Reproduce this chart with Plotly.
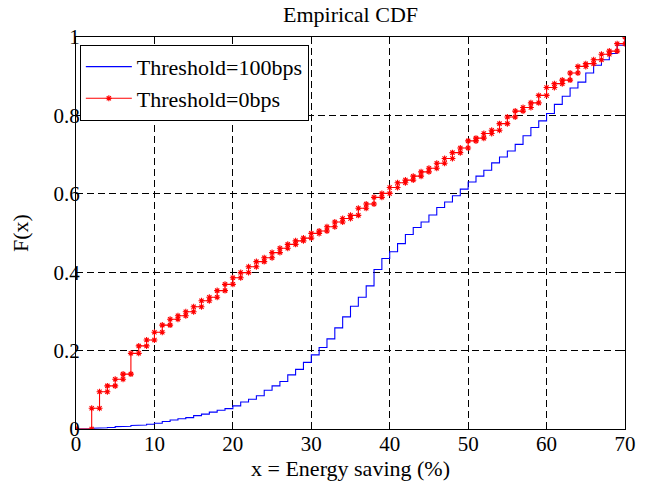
import plotly.graph_objects as go

# Step positions (x = Energy saving, %)
x_steps = list(range(0, 71))

# Empirical CDF levels on [k, k+1) for k = 0..70
cdf_100bps = [
    0.0, 0.0, 0.002, 0.003, 0.004, 0.006, 0.007, 0.009, 0.010, 0.012,
    0.0145, 0.019, 0.023, 0.026, 0.029, 0.034, 0.038, 0.043, 0.048, 0.052,
    0.059, 0.069, 0.076, 0.085, 0.099, 0.110, 0.121, 0.138, 0.152, 0.170,
    0.189, 0.208, 0.230, 0.258, 0.286, 0.313, 0.336, 0.365, 0.407, 0.435,
    0.452, 0.473, 0.496, 0.514, 0.528, 0.546, 0.565, 0.579, 0.595, 0.612,
    0.630, 0.645, 0.660, 0.679, 0.694, 0.709, 0.726, 0.748, 0.769, 0.786,
    0.805, 0.828, 0.849, 0.870, 0.885, 0.908, 0.928, 0.942, 0.958, 0.979,
    1.0,
]
cdf_0bps = [
    0.0, 0.0, 0.053, 0.095, 0.110, 0.127, 0.140, 0.193, 0.212, 0.227,
    0.247, 0.265, 0.280, 0.289, 0.299, 0.312, 0.327, 0.336, 0.353, 0.369,
    0.386, 0.399, 0.414, 0.427, 0.437, 0.450, 0.461, 0.471, 0.480, 0.487,
    0.499, 0.505, 0.516, 0.528, 0.537, 0.545, 0.563, 0.574, 0.591, 0.601,
    0.616, 0.628, 0.635, 0.645, 0.656, 0.665, 0.678, 0.690, 0.705, 0.717,
    0.735, 0.742, 0.754, 0.762, 0.779, 0.796, 0.811, 0.820, 0.832, 0.851,
    0.871, 0.881, 0.890, 0.908, 0.925, 0.932, 0.942, 0.956, 0.964, 0.983,
    1.0,
]

x_ticks = [0, 10, 20, 30, 40, 50, 60, 70]
y_ticks = [0, 0.2, 0.4, 0.6, 0.8, 1]
y_tick_labels = ["0", "0.2", "0.4", "0.6", "0.8", "1"]

series_names = ["Threshold=100bps", "Threshold=0bps"]


def stair_vertices(xs, fs):
    vx, vy = [xs[0]], [fs[0]]
    for k in range(1, len(xs)):
        if fs[k] != fs[k - 1]:
            vx += [xs[k], xs[k]]
            vy += [fs[k - 1], fs[k]]
    return vx, vy


FONT = "Liberation Serif"

bx, by = stair_vertices(x_steps, cdf_100bps)
rx, ry = stair_vertices(x_steps, cdf_0bps)

fig = go.Figure()
fig.add_trace(go.Scatter(
    x=bx, y=by, mode="lines", name=series_names[0],
    line=dict(color="#0000ff", width=1.1),
))
fig.add_trace(go.Scatter(
    x=rx, y=ry, mode="lines+markers", name=series_names[1],
    line=dict(color="#ff0000", width=1.1),
    marker=dict(symbol="asterisk-open", size=5, color="#ff0000",
                line=dict(color="#ff0000", width=1.1)),
))

axis_common = dict(
    showline=True, linecolor="black", linewidth=1, mirror="ticks",
    ticks="inside", ticklen=5, tickcolor="black", tickwidth=1,
    showgrid=True, gridcolor="black", gridwidth=1, griddash="7px,4px",
    zeroline=False,
    tickfont=dict(family=FONT, size=21, color="black"),
)

fig.update_xaxes(
    range=[0, 70], tickvals=x_ticks, ticklabelstandoff=-4,
    title=dict(text="x = Energy saving (%)", font=dict(family=FONT, size=22, color="black"), standoff=0),
    **axis_common,
)
fig.update_yaxes(
    range=[0, 1], tickvals=y_ticks, ticktext=y_tick_labels, ticklabelstandoff=-9,
    title=dict(text="F(x)", font=dict(family=FONT, size=22, color="black"), standoff=18),
    **axis_common,
)

fig.update_layout(
    width=648, height=481,
    margin=dict(l=76, r=23, t=37, b=52, autoexpand=False),
    paper_bgcolor="white", plot_bgcolor="white",
    title=dict(text="Empirical CDF", x=0.5, xref="paper", xanchor="center",
               y=1 - 14 / 481, yref="container", yanchor="middle",
               font=dict(family=FONT, size=22, color="black")),
    legend=dict(x=0.007, y=0.98, xanchor="left", yanchor="top",
                bgcolor="white", bordercolor="black", borderwidth=1,
                font=dict(family=FONT, size=22, color="black"),
                itemwidth=46, tracegroupgap=0),
    showlegend=True,
)

# Remove the default 8px page margin so the figure sits at the window origin.
fig.write_html(
    "out.html",
    config={"displayModeBar": False},
    post_script="document.body.style.margin='0';document.body.style.overflow='hidden';",
)
